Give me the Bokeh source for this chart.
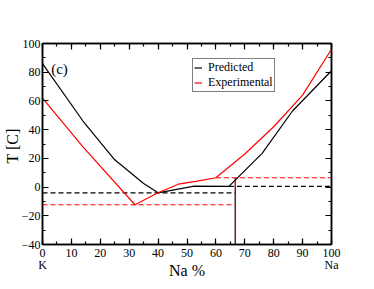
from bokeh.plotting import figure
from bokeh.models import (Range1d, LinearAxis, SingleIntervalTicker, Legend,
                          LegendItem, Label, CustomJSTickFormatter)
from bokeh.embed import file_html
from bokeh.resources import INLINE

# ---- data ----
pred_x = [0, 14, 25, 35, 40, 52.5, 64.5, 76, 86.5, 100]
pred_y = [86, 46, 19, 2.5, -4, 0.7, 0.5, 23.5, 53, 81]
exp_x = [0, 14, 32, 40, 47, 53, 60, 70, 80, 90, 100]
exp_y = [62, 28, -12.3, -4, 2, 4, 6.5, 23, 42, 64, 96]

eut_x = 66.7            # composition of vertical line
pred_low_T = -4.0       # predicted lower dashed level
pred_high_T = 0.5       # predicted upper dashed level
pred_high_x0 = 64.5
exp_low_T = -12.3       # experimental lower dashed level
exp_high_T = 6.5        # experimental upper dashed level
exp_high_x0 = 60.0

end_labels = {0: "0\nK", 100: "100\nNa"}

FONT = "Liberation Serif"

p = figure(frame_width=289, frame_height=201, output_backend="svg", toolbar_location=None,
           x_range=Range1d(0, 100), y_range=Range1d(-40, 100),
           min_border_left=35, min_border_right=34, min_border_top=43, min_border_bottom=36,
           background_fill_color="white", border_fill_color="white")
p.grid.visible = False
p.outline_line_color = "black"
p.outline_line_width = 1.5


def style_axis(ax, interval, labels=True):
    ax.ticker = SingleIntervalTicker(interval=interval, num_minor_ticks=2)
    ax.major_tick_in = 6
    ax.major_tick_out = 0
    ax.minor_tick_in = 3
    ax.minor_tick_out = 0
    ax.axis_line_width = 1.5
    ax.major_tick_line_width = 1.2
    ax.minor_tick_line_width = 1.2
    ax.axis_line_color = "black"
    ax.major_tick_line_color = "black"
    ax.minor_tick_line_color = "black"
    ax.major_label_text_font = FONT
    ax.major_label_text_font_size = "12px"
    ax.major_label_text_color = "black"
    ax.major_label_standoff = 2
    ax.axis_label_text_font = FONT
    ax.axis_label_text_font_style = "normal"
    ax.axis_label_text_font_size = "16px"
    ax.axis_label_text_color = "black"
    if not labels:
        ax.formatter = CustomJSTickFormatter(code="return ''")
        ax.major_label_standoff = 0


style_axis(p.xaxis[0], 10)
style_axis(p.yaxis[0], 20)
p.xaxis[0].major_label_overrides = end_labels
p.xaxis[0].major_label_standoff = 1
p.xaxis[0].major_label_text_line_height = 0.9
p.xaxis[0].axis_label = "Na %"
p.xaxis[0].axis_label_standoff = -13
p.yaxis[0].axis_label = "T  [C]"
p.yaxis[0].axis_label_standoff = -2

top = LinearAxis()
style_axis(top, 10, labels=False)
p.add_layout(top, "above")
right = LinearAxis()
style_axis(right, 20, labels=False)
p.add_layout(right, "right")

# dashed levels
dash = "5 3"
p.segment(x0=[0], y0=[pred_low_T], x1=[eut_x], y1=[pred_low_T], line_color="black", line_width=1.2, line_dash=dash)
p.segment(x0=[pred_high_x0], y0=[pred_high_T], x1=[100], y1=[pred_high_T], line_color="black", line_width=1.2, line_dash=dash)
p.segment(x0=[0], y0=[exp_low_T], x1=[eut_x], y1=[exp_low_T], line_color="red", line_width=1.2, line_dash=dash)
p.segment(x0=[exp_high_x0], y0=[exp_high_T], x1=[100], y1=[exp_high_T], line_color="red", line_width=1.2, line_dash=dash)

# vertical line
p.segment(x0=[eut_x], y0=[pred_high_T], x1=[eut_x], y1=[exp_high_T], line_color="#c02020", line_width=1.5)
p.segment(x0=[eut_x], y0=[-40], x1=[eut_x], y1=[pred_high_T], line_color="#5a2626", line_width=1.5)

r_pred = p.line(pred_x, pred_y, line_color="black", line_width=1.2)
r_exp = p.line(exp_x, exp_y, line_color="red", line_width=1.2)

legend = Legend(items=[LegendItem(label="Predicted", renderers=[r_pred]),
                       LegendItem(label="Experimental", renderers=[r_exp])],
                location=(150, 152), orientation="vertical",
                label_text_font=FONT, label_text_font_size="12px", label_text_color="black",
                label_text_line_height=1.0,
                glyph_width=8, glyph_height=11, label_height=11, label_standoff=6,
                spacing=0, padding=1, margin=0,
                border_line_color="black", border_line_width=1.2,
                background_fill_color="white", background_fill_alpha=1.0)
p.add_layout(legend)

p.add_layout(Label(x=3, y=82, text="(c)", text_font=FONT, text_font_size="15px",
                   text_baseline="middle", text_align="left", text_color="black"))

open("out.html", "w").write(file_html(p, INLINE))
